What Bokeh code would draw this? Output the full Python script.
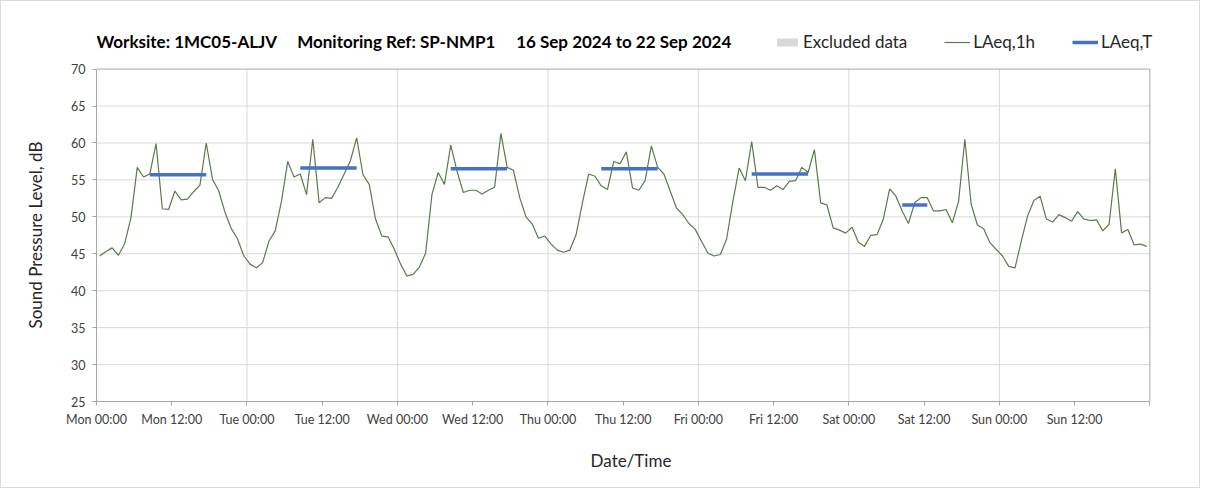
from bokeh.plotting import figure
from bokeh.models import (FixedTicker, Legend, LegendItem, ColumnDataSource, Range1d,
                          Label, Title)
from bokeh.embed import file_html
from bokeh.resources import INLINE

# hourly LAeq,1h values (Mon 00:00 .. Sun 23:00), plotted at hour centres
hour_index = list(range(168))
laeq_1h = [
    44.7, 45.3, 45.8, 44.8, 46.4, 49.9, 56.7, 55.4, 55.8, 59.9, 51.1, 51.0,
    53.5, 52.3, 52.4, 53.4, 54.3, 60.0, 55.1, 53.5, 50.6, 48.4, 47.0, 44.7,
    43.6, 43.1, 43.8, 46.7, 48.1, 52.1, 57.5, 55.4, 55.8, 53.0, 60.5, 51.9,
    52.6, 52.5, 54.0, 55.8, 57.6, 60.7, 55.7, 54.4, 49.7, 47.4, 47.3, 45.6,
    43.6, 42.0, 42.2, 43.2, 45.1, 53.0, 56.0, 54.4, 59.7, 56.2, 53.3, 53.6,
    53.6, 53.1, 53.6, 54.0, 61.3, 56.7, 56.3, 52.6, 50.0, 49.0, 47.1, 47.4,
    46.3, 45.5, 45.2, 45.5, 47.6, 51.9, 55.8, 55.5, 54.2, 53.7, 57.5, 57.2,
    58.8, 53.9, 53.6, 54.9, 59.6, 56.7, 55.8, 53.5, 51.2, 50.3, 49.1, 48.3,
    46.7, 45.1, 44.7, 44.9, 47.0, 52.1, 56.6, 54.9, 60.2, 54.0, 54.0, 53.6,
    54.2, 53.7, 54.8, 54.9, 56.7, 56.0, 59.1, 51.9, 51.6, 48.5, 48.2, 47.8,
    48.6, 46.6, 46.0, 47.5, 47.6, 49.7, 53.8, 52.8, 50.8, 49.1, 51.9, 52.6,
    52.6, 50.8, 50.8, 51.0, 49.2, 52.1, 60.5, 51.7, 48.9, 48.4, 46.5, 45.6,
    44.7, 43.3, 43.1, 46.7, 50.1, 52.2, 52.8, 49.7, 49.3, 50.3, 49.9, 49.4,
    50.7, 49.7, 49.5, 49.6, 48.1, 49.0, 56.5, 47.8, 48.3, 46.2, 46.3, 46.0,
]

# LAeq,T periods (first and last hour index of each period)
period_first_hour = [8, 32, 56, 80, 104, 128]
period_last_hour = [17, 41, 65, 89, 113, 132]
laeq_t = [55.7, 56.6, 56.5, 56.5, 55.8, 51.6]

# excluded-data periods (none in this week)
excluded_start = [float("nan")]
excluded_end = [float("nan")]

day_names = ["Mon", "Tue", "Wed", "Thu", "Fri", "Sat", "Sun"]
tick_times = ["00:00", "12:00"]
y_ticks = [25, 30, 35, 40, 45, 50, 55, 60, 65, 70]
x_ticks = list(range(0, 169, 12))

FONT = "Lato"
TXT = "#404040"
AXIS_C = "#a6a6a6"
GRID_C = "#d9d9d9"
Y_MIN, Y_MAX = y_ticks[0], y_ticks[-1]
X_MIN, X_MAX = x_ticks[0], x_ticks[-1]

# the frame is a little larger than the 0..168 h / 25..70 dB box so that the
# title and legend (drawn in screen units) are not clipped
p = figure(width=1200, height=488, output_backend="svg", toolbar_location=None,
           x_range=Range1d(X_MIN, X_MAX + 2.5), y_range=Range1d(Y_MIN, Y_MAX + 5.5),
           min_border_left=95, min_border_right=36, min_border_top=27, min_border_bottom=88)
p.styles = {"border": "1px solid #dcdcdc"}
p.outline_line_color = None
p.xgrid.grid_line_color = None
p.ygrid.grid_line_color = None

# grid lines inside the box
inner_y = y_ticks[1:-1]
p.segment(x0=[X_MIN] * len(inner_y), x1=[X_MAX] * len(inner_y), y0=inner_y, y1=inner_y,
          line_color=GRID_C, line_width=1, level="underlay")
day_bounds = x_ticks[2:-1:2]
p.segment(x0=day_bounds, x1=day_bounds, y0=[Y_MIN] * len(day_bounds), y1=[Y_MAX] * len(day_bounds),
          line_color=GRID_C, line_width=1, level="underlay")
# box top and right edges
p.segment(x0=[X_MIN, X_MAX], x1=[X_MAX, X_MAX], y0=[Y_MAX, Y_MIN], y1=[Y_MAX, Y_MAX],
          line_color=AXIS_C, line_width=1, level="underlay")

excl_r = p.quad(left=excluded_start, right=excluded_end, top=[Y_MAX], bottom=[Y_MIN],
                fill_color="#d9d9d9", line_color=None)

src = ColumnDataSource(dict(x=[h + 0.5 for h in hour_index], y=laeq_1h))
line_r = p.line("x", "y", source=src, line_color="#5b7a4b", line_width=1.2)

seg = ColumnDataSource(dict(x0=[h + 0.5 for h in period_first_hour],
                            x1=[h + 0.5 for h in period_last_hour],
                            y=laeq_t))
seg_r = p.segment(x0="x0", y0="y", x1="x1", y1="y", source=seg,
                  line_color="#4472C4", line_width=3.5)

# axes / ticks
labels = {}
for k, t in enumerate(x_ticks):
    labels[t] = f"{day_names[k // 2]} {tick_times[k % 2]}" if k < 14 else ""
p.xaxis.ticker = FixedTicker(ticks=x_ticks)
p.xaxis.major_label_overrides = labels
p.xaxis.bounds = (X_MIN, X_MAX)
p.yaxis.ticker = FixedTicker(ticks=y_ticks)
p.yaxis.bounds = (Y_MIN, Y_MAX)

for ax in (p.xaxis[0], p.yaxis[0]):
    ax.axis_line_color = AXIS_C
    ax.major_tick_line_color = AXIS_C
    ax.major_tick_out = 4
    ax.major_tick_in = 0
    ax.minor_tick_line_color = None
    ax.major_label_text_font = FONT
    ax.major_label_text_font_size = "12.5px"
    ax.major_label_text_color = TXT
    ax.axis_label_text_font = FONT
    ax.axis_label_text_font_style = "normal"
    ax.axis_label_text_font_size = "17px"
    ax.axis_label_text_color = "#262626"

p.xaxis.axis_label = "Date/Time"
p.xaxis.axis_label_standoff = 20
p.xaxis.major_label_standoff = 6
p.yaxis.major_label_standoff = 7

# y-axis title, aligned on the 25..70 dB box
p.add_layout(Title(text="Sound Pressure Level, dB", text_font=FONT, text_font_size="17px",
                   text_font_style="normal", text_color="#262626", align="left",
                   vertical_align="top", offset=73, standoff=41), "left")

# chart title, placed in screen units above the 70 dB line
NB = "\u00a0"
title_text = ("Worksite: 1MC05-ALJV" + NB * 5 + "Monitoring Ref: SP-NMP1" + NB * 5 +
              "16 Sep 2024 to 22 Sep 2024")
p.add_layout(Label(x=0, y=360, x_units="screen", y_units="screen", text=title_text,
                   text_font=FONT, text_font_size="17px", text_font_style="bold",
                   text_color="#000000", text_baseline="middle"))

legend = Legend(items=[LegendItem(label="Excluded data", renderers=[excl_r]),
                       LegendItem(label="LAeq,1h", renderers=[line_r]),
                       LegendItem(label="LAeq,T", renderers=[seg_r])],
                orientation="horizontal", location=(678, 349),
                label_text_font=FONT, label_text_font_size="17px", label_text_color="#262626",
                glyph_width=26, glyph_height=10, label_standoff=3, spacing=37,
                padding=0, margin=0, border_line_color=None, background_fill_alpha=0)
p.add_layout(legend, "center")

open("out.html", "w").write(file_html(p, INLINE))
